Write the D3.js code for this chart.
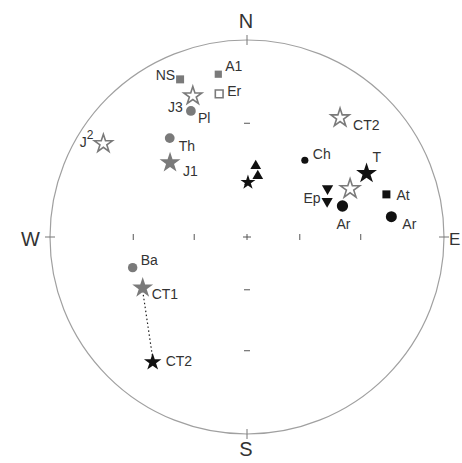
<!DOCTYPE html>
<html><head><meta charset="utf-8">
<script src="https://cdn.jsdelivr.net/npm/d3@7"></script>
<style>body{margin:0;background:#fff}svg{display:block}text{font-family:"Liberation Sans",Arial,sans-serif}</style>
</head><body>
<svg id="c" width="462" height="463"></svg>
<script>
// Stereonet data: [trend, plunge] in degrees (lower hemisphere)
const names   = ["NS","A1","Er","J3","Pl","Th","J1","J2","CT2","Ch","T","Tb","Ep","Ep2","Ar","At","Ar2","Tr1","Tr2","Cs","Ba","CT1","CT2b"];
const labels  = ["NS","A1","Er","J3","Pl","Th","J1","J2","CT2","Ch","T","","Ep","","Ar","At","Ar","","","","Ba","CT1","CT2"];
const trends  = [337,350,349,339,336,322,314,303, 38, 37, 62, 65, 59, 66, 72, 73, 82,  7, 10,  1,255,244,217];
const plunges = [  8, 10, 17, 15, 20, 25, 33,  8, 15, 38, 21, 30, 39, 42, 36, 17, 17, 50, 55, 59, 28, 29, 13];
const symbols = ["square","square","squareOpen","starOpen","circle","circle","star","starOpen","starOpen","circle","star","starOpen","triDown","triDown","circle","square","circle","triUp","triUp","star","circle","star","star"];
const tones   = ["gray","gray","gray","gray","gray","gray","gray","gray","gray","black","black","gray","black","black","black","black","black","black","black","black","gray","gray","black"];
const cardinals = ["N","E","S","W"];
const tickAngles = [30, 60];   // ticks along axes at these angles from centre
const linkPair = ["CT1","CT2b"];

const svg = d3.select("#c");
const cx = 247, cy = 237, R = 197;
const rScale = d3.scaleLinear().domain([0, 1]).range([0, R]); // tan(theta/2) -> px
function proj(tr, pl) {
  const th = (90 - pl) * Math.PI / 180;
  const r = rScale(Math.tan(th / 2));
  const a = tr * Math.PI / 180;
  return [cx + r * Math.sin(a), cy - r * Math.cos(a)];
}

// primitive circle
svg.append("circle").attr("cx", cx).attr("cy", cy).attr("r", R)
  .attr("fill", "none").attr("stroke", "#a0a0a0").attr("stroke-width", 1.2);

// cardinal ticks on the circle
[0, 90, 180, 270].forEach(az => {
  const a = az * Math.PI / 180;
  const sx = Math.sin(a), sy = -Math.cos(a);
  svg.append("line")
    .attr("x1", cx + sx * (R - 5)).attr("y1", cy + sy * (R - 5))
    .attr("x2", cx + sx * (R + 5)).attr("y2", cy + sy * (R + 5))
    .attr("stroke", "#777").attr("stroke-width", 1);
});
// inner ticks along axes
[0, 90, 180, 270].forEach(az => {
  tickAngles.forEach(t => {
    const p = proj(az, 90 - t);
    const horiz = (az === 0 || az === 180);
    svg.append("line")
      .attr("x1", p[0] - (horiz ? 3 : 0)).attr("x2", p[0] + (horiz ? 3 : 0))
      .attr("y1", p[1] - (horiz ? 0 : 3)).attr("y2", p[1] + (horiz ? 0 : 3))
      .attr("stroke", "#555").attr("stroke-width", 1);
  });
});
// centre cross
svg.append("line").attr("x1", cx - 4).attr("x2", cx + 4).attr("y1", cy).attr("y2", cy).attr("stroke", "#555");
svg.append("line").attr("x1", cx).attr("x2", cx).attr("y1", cy - 3).attr("y2", cy + 3).attr("stroke", "#555");

// cardinal labels
const cardPos = {N: [246, 28, "middle", 20], E: [449, 245, "start", 17], S: [246, 456, "middle", 20], W: [40, 246, "end", 20]};
cardinals.forEach(c => {
  svg.append("text").attr("x", cardPos[c][0]).attr("y", cardPos[c][1])
    .attr("text-anchor", cardPos[c][2]).attr("font-size", cardPos[c][3]).attr("fill", "#333").text(c);
});

// dotted link
const ia = names.indexOf(linkPair[0]), ib = names.indexOf(linkPair[1]);
const pa = proj(trends[ia], plunges[ia]), pb = proj(trends[ib], plunges[ib]);
svg.append("line").attr("x1", pa[0]).attr("y1", pa[1] + 3).attr("x2", pb[0]).attr("y2", pb[1] - 4)
  .attr("stroke", "#222").attr("stroke-width", 1.2).attr("stroke-dasharray", "1.5,2.5");

// markers
const col = {gray: "#7a7a7a", black: "#111"};
const symSize = {NS: 64, A1: 52, Er: 60, J3: 100, Pl: 75, Th: 75, J1: 135, J2: 100, CT2: 105, Ch: 40, T: 135, Tb: 115,
  Ep: 55, Ep2: 55, Ar: 100, At: 64, Ar2: 95, Tr1: 50, Tr2: 50, Cs: 70, Ba: 70, CT1: 135, CT2b: 95};
names.forEach((n, i) => {
  const p = proj(trends[i], plunges[i]);
  const s = symbols[i], c = col[tones[i]];
  let type = d3.symbolCircle, fill = c, stroke = "none", rot = 0;
  if (s === "square" || s === "squareOpen") type = d3.symbolSquare;
  if (s === "star" || s === "starOpen") type = d3.symbolStar;
  if (s === "triUp" || s === "triDown") type = d3.symbolTriangle;
  if (s === "triDown") rot = 180;
  if (s.endsWith("Open")) { fill = "#fff"; stroke = c; }
  svg.append("path").attr("d", d3.symbol().type(type).size(symSize[n])())
    .attr("transform", `translate(${p[0]},${p[1]}) rotate(${rot})`)
    .attr("fill", fill).attr("stroke", stroke).attr("stroke-width", s.endsWith("Open") ? 1.6 : 0);
});

// labels (offsets relative to marker, layout only)
const labOff = {NS: [-5, 1, "end"], A1: [7, -3, "start"], Er: [8, 2, "start"], J3: [-10, 16, "end"], Pl: [7, 12, "start"],
  Th: [9, 13, "start"], J1: [13, 13, "start"], J2: [-10, 3, "end"], CT2: [13, 12, "start"], Ch: [8, -1, "start"],
  T: [6, -11, "start"], Ep: [-7, 14, "end"], Ar: [-6, 23, "start"], At: [10, 6, "start"], Ar2: [11, 12, "start"],
  Ba: [8, -3, "start"], CT1: [9, 11, "start"], CT2b: [13, 4, "start"]};
names.forEach((n, i) => {
  if (!labels[i]) return;
  const p = proj(trends[i], plunges[i]);
  const o = labOff[n];
  const t = svg.append("text").attr("x", p[0] + o[0]).attr("y", p[1] + o[1])
    .attr("text-anchor", o[2]).attr("font-size", 14).attr("fill", "#333");
  if (n === "J2") {
    t.append("tspan").text("J");
    t.append("tspan").attr("dy", -8).attr("font-size", 12).text("2");
  } else t.text(labels[i]);
});
</script>
</body></html>
